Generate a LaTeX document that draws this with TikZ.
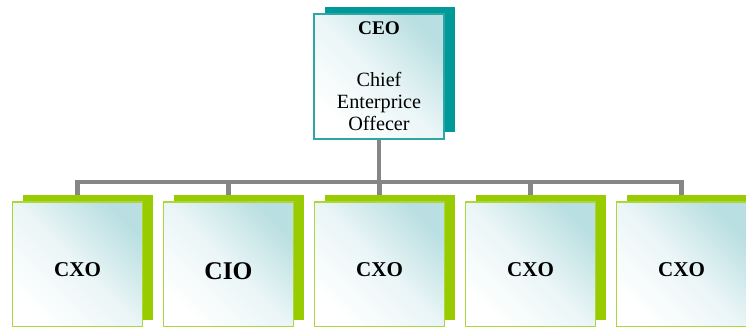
\documentclass[tikz,border=0pt]{standalone}
\usepackage{fontspec}
\setmainfont{Liberation Serif}
\newfontfamily\timesfont{Liberation Serif}
\usepackage{tikz}
\usetikzlibrary{shapes,arrows,positioning,backgrounds,shadows}

\definecolor{ceoshadow}{RGB}{0,153,153}
\definecolor{ceoborder}{RGB}{46,166,166}
\definecolor{boxtint}{RGB}{186,223,226}
\definecolor{cxoshadow}{RGB}{153,204,0}
\definecolor{cxoborder}{RGB}{172,214,58}
\definecolor{linkgray}{RGB}{134,134,134}

\begin{document}
\begin{tikzpicture}[x=0.02cm, y=-0.02cm,
  box/.style={draw, line width=1.1pt,
    minimum width=2.6cm, minimum height=2.5cm,
    inner sep=0pt, align=center,
    top color=boxtint, bottom color=white,
    middle color=boxtint!30!white, shading angle=-45},
  ceobox/.style={box, draw=ceoborder,
    drop shadow={shadow xshift=6.2pt, shadow yshift=4pt,
      fill=ceoshadow, opacity=1}},
  cxobox/.style={box, draw=cxoborder, text depth=0pt,
    drop shadow={shadow xshift=6.2pt, shadow yshift=4pt,
      fill=cxoshadow, opacity=1}},
  link/.style={draw=linkgray, line width=2.8pt}
  ]
  \useasboundingbox (0,0) rectangle (746,327);

  \node[ceobox, font=\timesfont\fontsize{11.5}{12.6}\selectfont] (ceo) at (379,76.5)
    {{\fontsize{11}{12.6}\selectfont\bfseries CEO}\\[17pt]
     Chief\\Enterprice\\Offecer};

  % the five chiefs under the CEO
  \foreach \name/\txt/\fsize/\theight [count=\i] in
    {cxoa/CXO/12/14.2, cio/CIO/14.5/17.6, cxob/CXO/12/14.2,
     cxoc/CXO/12/14.2, cxod/CXO/12/14.2}
  {
    \node[cxobox, font=\timesfont\fontsize{\fsize}{\fsize}\selectfont\bfseries,
      text height=\theight pt] (\name) at ({77.5+151*(\i-1)},264.5) {\txt};
  }

  \coordinate (bar) at (379,182);
  \begin{scope}[on background layer]
    \draw[link] (ceo.south) -- (ceo.south |- bar);
    \draw[link] (cxoa.north) -- (cxoa.north |- bar)
      -- (cxod.north |- bar) -- (cxod.north);
    \foreach \name in {cio,cxob,cxoc}
      \draw[link] (\name.north |- bar) -- (\name.north);
  \end{scope}
\end{tikzpicture}
\end{document}
